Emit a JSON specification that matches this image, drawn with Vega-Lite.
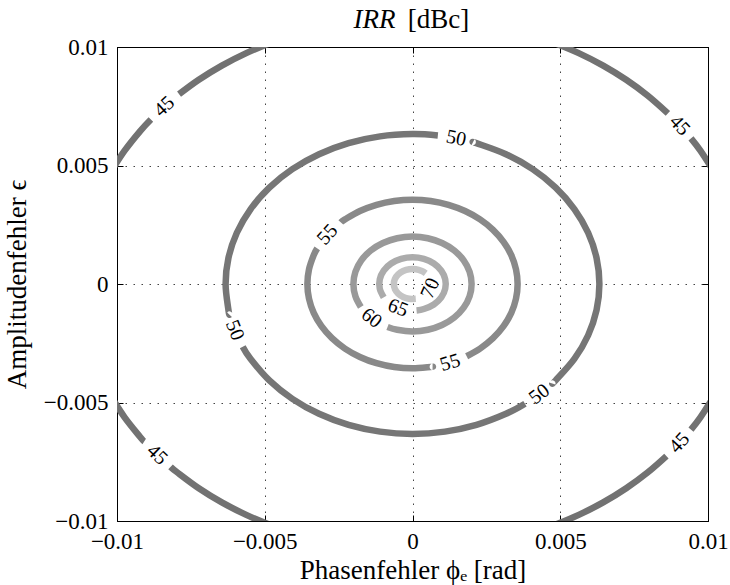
{
  "$schema": "https://vega.github.io/schema/vega-lite/v6.json",
  "width": 591,
  "height": 474,
  "autosize": {"type": "none"},
  "padding": {"left": 117, "top": 47, "right": 22, "bottom": 64},
  "background": "white",
  "config": {
    "font": "Liberation Serif",
    "view": {"stroke": "black", "strokeWidth": 1},
    "axis": {
      "domainColor": "black",
      "tickColor": "black",
      "labelColor": "black",
      "titleColor": "black",
      "labelFont": "Liberation Serif",
      "titleFont": "Liberation Serif",
      "labelFontSize": 23,
      "titleFontSize": 27,
      "titleFontWeight": "normal",
      "gridColor": "#444444",
      "gridDash": [1.5, 6.5],
      "gridOpacity": 1,
      "gridWidth": 1
    }
  },
  "datasets": {
    "contours": [
      {"l":45,"s":"45a","o":0,"x":0.010196,"y":0.004754},
      {"l":45,"s":"45a","o":1,"x":0.009743,"y":0.005625},
      {"l":45,"s":"45a","o":2,"x":0.009424,"y":0.006144},
      {"l":45,"s":"45b","o":0,"x":0.008643,"y":0.007201},
      {"l":45,"s":"45b","o":1,"x":0.007955,"y":0.007955},
      {"l":45,"s":"45b","o":2,"x":0.007232,"y":0.008618},
      {"l":45,"s":"45b","o":3,"x":0.006453,"y":0.009216},
      {"l":45,"s":"45b","o":4,"x":0.005625,"y":0.009743},
      {"l":45,"s":"45b","o":5,"x":0.004754,"y":0.010196},
      {"l":45,"s":"45c","o":0,"x":-0.004754,"y":0.010196},
      {"l":45,"s":"45c","o":1,"x":-0.005625,"y":0.009743},
      {"l":45,"s":"45c","o":2,"x":-0.006453,"y":0.009216},
      {"l":45,"s":"45c","o":3,"x":-0.007232,"y":0.008618},
      {"l":45,"s":"45c","o":4,"x":-0.0079,"y":0.00801},
      {"l":45,"s":"45d","o":0,"x":-0.008853,"y":0.006941},
      {"l":45,"s":"45d","o":1,"x":-0.009216,"y":0.006453},
      {"l":45,"s":"45d","o":2,"x":-0.009743,"y":0.005625},
      {"l":45,"s":"45d","o":3,"x":-0.010196,"y":0.004754},
      {"l":45,"s":"45e","o":0,"x":-0.010196,"y":-0.004754},
      {"l":45,"s":"45e","o":1,"x":-0.009743,"y":-0.005625},
      {"l":45,"s":"45e","o":2,"x":-0.009216,"y":-0.006453},
      {"l":45,"s":"45e","o":3,"x":-0.009079,"y":-0.006644},
      {"l":45,"s":"45f","o":0,"x":-0.008188,"y":-0.007715},
      {"l":45,"s":"45f","o":1,"x":-0.007955,"y":-0.007955},
      {"l":45,"s":"45f","o":2,"x":-0.007232,"y":-0.008618},
      {"l":45,"s":"45f","o":3,"x":-0.006453,"y":-0.009216},
      {"l":45,"s":"45f","o":4,"x":-0.005625,"y":-0.009743},
      {"l":45,"s":"45f","o":5,"x":-0.004754,"y":-0.010196},
      {"l":45,"s":"45g","o":0,"x":0.004754,"y":-0.010196},
      {"l":45,"s":"45g","o":1,"x":0.005625,"y":-0.009743},
      {"l":45,"s":"45g","o":2,"x":0.006453,"y":-0.009216},
      {"l":45,"s":"45g","o":3,"x":0.007232,"y":-0.008618},
      {"l":45,"s":"45g","o":4,"x":0.007955,"y":-0.007955},
      {"l":45,"s":"45g","o":5,"x":0.008593,"y":-0.007262},
      {"l":45,"s":"45h","o":0,"x":0.009424,"y":-0.006144},
      {"l":45,"s":"45h","o":1,"x":0.009743,"y":-0.005625},
      {"l":45,"s":"45h","o":2,"x":0.010196,"y":-0.004754},

      {"l":50,"s":"50a","o":0,"x":0.000858,"y":0.006266},
      {"l":50,"s":"50a","o":1,"x":0,"y":0.006325},
      {"l":50,"s":"50a","o":2,"x":-0.001098,"y":0.006229},
      {"l":50,"s":"50a","o":3,"x":-0.002163,"y":0.005944},
      {"l":50,"s":"50a","o":4,"x":-0.003163,"y":0.005477},
      {"l":50,"s":"50a","o":5,"x":-0.004066,"y":0.004845},
      {"l":50,"s":"50a","o":6,"x":-0.004845,"y":0.004066},
      {"l":50,"s":"50a","o":7,"x":-0.005477,"y":0.003163},
      {"l":50,"s":"50a","o":8,"x":-0.005944,"y":0.002163},
      {"l":50,"s":"50a","o":9,"x":-0.006229,"y":0.001098},
      {"l":50,"s":"50a","o":10,"x":-0.006325,"y":0},
      {"l":50,"s":"50a","o":11,"x":-0.006229,"y":-0.001098},
      {"l":50,"s":"50a","o":12,"x":-0.006191,"y":-0.001293},
      {"l":50,"s":"50b","o":0,"x":-0.005746,"y":-0.002643},
      {"l":50,"s":"50b","o":1,"x":-0.005477,"y":-0.003163},
      {"l":50,"s":"50b","o":2,"x":-0.004845,"y":-0.004066},
      {"l":50,"s":"50b","o":3,"x":-0.004066,"y":-0.004845},
      {"l":50,"s":"50b","o":4,"x":-0.003163,"y":-0.005477},
      {"l":50,"s":"50b","o":5,"x":-0.002163,"y":-0.005944},
      {"l":50,"s":"50b","o":6,"x":-0.001098,"y":-0.006229},
      {"l":50,"s":"50b","o":7,"x":0,"y":-0.006325},
      {"l":50,"s":"50b","o":8,"x":0.001098,"y":-0.006229},
      {"l":50,"s":"50b","o":9,"x":0.002163,"y":-0.005944},
      {"l":50,"s":"50b","o":10,"x":0.003163,"y":-0.005477},
      {"l":50,"s":"50b","o":11,"x":0.003806,"y":-0.005051},
      {"l":50,"s":"50c","o":0,"x":0.00473,"y":-0.004199},
      {"l":50,"s":"50c","o":1,"x":0.004845,"y":-0.004066},
      {"l":50,"s":"50c","o":2,"x":0.005477,"y":-0.003163},
      {"l":50,"s":"50c","o":3,"x":0.005944,"y":-0.002163},
      {"l":50,"s":"50c","o":4,"x":0.006229,"y":-0.001098},
      {"l":50,"s":"50c","o":5,"x":0.006325,"y":0},
      {"l":50,"s":"50c","o":6,"x":0.006229,"y":0.001098},
      {"l":50,"s":"50c","o":7,"x":0.005944,"y":0.002163},
      {"l":50,"s":"50c","o":8,"x":0.005477,"y":0.003163},
      {"l":50,"s":"50c","o":9,"x":0.004845,"y":0.004066},
      {"l":50,"s":"50c","o":10,"x":0.004066,"y":0.004845},
      {"l":50,"s":"50c","o":11,"x":0.003163,"y":0.005477},
      {"l":50,"s":"50c","o":12,"x":0.002163,"y":0.005944},
      {"l":50,"s":"50c","o":13,"x":0.002049,"y":0.005984},

      {"l":55,"s":"55a","o":0,"x":-0.003224,"y":0.001503},
      {"l":55,"s":"55a","o":1,"x":-0.003343,"y":0.001217},
      {"l":55,"s":"55a","o":2,"x":-0.003503,"y":0.000617},
      {"l":55,"s":"55a","o":3,"x":-0.003557,"y":0},
      {"l":55,"s":"55a","o":4,"x":-0.003503,"y":-0.000617},
      {"l":55,"s":"55a","o":5,"x":-0.003343,"y":-0.001217},
      {"l":55,"s":"55a","o":6,"x":-0.00308,"y":-0.001779},
      {"l":55,"s":"55a","o":7,"x":-0.002725,"y":-0.002286},
      {"l":55,"s":"55a","o":8,"x":-0.002286,"y":-0.002725},
      {"l":55,"s":"55a","o":9,"x":-0.001779,"y":-0.00308},
      {"l":55,"s":"55a","o":10,"x":-0.001217,"y":-0.003343},
      {"l":55,"s":"55a","o":11,"x":-0.000617,"y":-0.003503},
      {"l":55,"s":"55a","o":12,"x":0,"y":-0.003557},
      {"l":55,"s":"55a","o":13,"x":0.000617,"y":-0.003503},
      {"l":55,"s":"55a","o":14,"x":0.000679,"y":-0.003492},
      {"l":55,"s":"55b","o":0,"x":0.001832,"y":-0.003049},
      {"l":55,"s":"55b","o":1,"x":0.002286,"y":-0.002725},
      {"l":55,"s":"55b","o":2,"x":0.002725,"y":-0.002286},
      {"l":55,"s":"55b","o":3,"x":0.00308,"y":-0.001779},
      {"l":55,"s":"55b","o":4,"x":0.003343,"y":-0.001217},
      {"l":55,"s":"55b","o":5,"x":0.003503,"y":-0.000617},
      {"l":55,"s":"55b","o":6,"x":0.003557,"y":0},
      {"l":55,"s":"55b","o":7,"x":0.003503,"y":0.000617},
      {"l":55,"s":"55b","o":8,"x":0.003343,"y":0.001217},
      {"l":55,"s":"55b","o":9,"x":0.00308,"y":0.001779},
      {"l":55,"s":"55b","o":10,"x":0.002725,"y":0.002286},
      {"l":55,"s":"55b","o":11,"x":0.002286,"y":0.002725},
      {"l":55,"s":"55b","o":12,"x":0.001779,"y":0.00308},
      {"l":55,"s":"55b","o":13,"x":0.001217,"y":0.003343},
      {"l":55,"s":"55b","o":14,"x":0.000617,"y":0.003503},
      {"l":55,"s":"55b","o":15,"x":0,"y":0.003557},
      {"l":55,"s":"55b","o":16,"x":-0.000617,"y":0.003503},
      {"l":55,"s":"55b","o":17,"x":-0.001217,"y":0.003343},
      {"l":55,"s":"55b","o":18,"x":-0.001779,"y":0.00308},
      {"l":55,"s":"55b","o":19,"x":-0.002286,"y":0.002725},
      {"l":55,"s":"55b","o":20,"x":-0.002426,"y":0.002602},

      {"l":60,"s":"60","o":0,"x":-0.000845,"y":-0.001813},
      {"l":60,"s":"60","o":1,"x":-0.000518,"y":-0.001932},
      {"l":60,"s":"60","o":2,"x":0,"y":-0.002},
      {"l":60,"s":"60","o":3,"x":0.000518,"y":-0.001932},
      {"l":60,"s":"60","o":4,"x":0.001,"y":-0.001732},
      {"l":60,"s":"60","o":5,"x":0.001414,"y":-0.001414},
      {"l":60,"s":"60","o":6,"x":0.001732,"y":-0.001},
      {"l":60,"s":"60","o":7,"x":0.001932,"y":-0.000518},
      {"l":60,"s":"60","o":8,"x":0.002,"y":0},
      {"l":60,"s":"60","o":9,"x":0.001932,"y":0.000518},
      {"l":60,"s":"60","o":10,"x":0.001732,"y":0.001},
      {"l":60,"s":"60","o":11,"x":0.001414,"y":0.001414},
      {"l":60,"s":"60","o":12,"x":0.001,"y":0.001732},
      {"l":60,"s":"60","o":13,"x":0.000518,"y":0.001932},
      {"l":60,"s":"60","o":14,"x":0,"y":0.002},
      {"l":60,"s":"60","o":15,"x":-0.000518,"y":0.001932},
      {"l":60,"s":"60","o":16,"x":-0.001,"y":0.001732},
      {"l":60,"s":"60","o":17,"x":-0.001414,"y":0.001414},
      {"l":60,"s":"60","o":18,"x":-0.001732,"y":0.001},
      {"l":60,"s":"60","o":19,"x":-0.001932,"y":0.000518},
      {"l":60,"s":"60","o":20,"x":-0.002,"y":0},
      {"l":60,"s":"60","o":21,"x":-0.001932,"y":-0.000518},
      {"l":60,"s":"60","o":22,"x":-0.001749,"y":-0.00097},

      {"l":65,"s":"65","o":0,"x":0.000137,"y":-0.001117},
      {"l":65,"s":"65","o":1,"x":0.000385,"y":-0.001057},
      {"l":65,"s":"65","o":2,"x":0.000723,"y":-0.000862},
      {"l":65,"s":"65","o":3,"x":0.000974,"y":-0.000563},
      {"l":65,"s":"65","o":4,"x":0.001108,"y":-0.000195},
      {"l":65,"s":"65","o":5,"x":0.001108,"y":0.000195},
      {"l":65,"s":"65","o":6,"x":0.000974,"y":0.000563},
      {"l":65,"s":"65","o":7,"x":0.000723,"y":0.000862},
      {"l":65,"s":"65","o":8,"x":0.000385,"y":0.001057},
      {"l":65,"s":"65","o":9,"x":0,"y":0.001125},
      {"l":65,"s":"65","o":10,"x":-0.000385,"y":0.001057},
      {"l":65,"s":"65","o":11,"x":-0.000723,"y":0.000862},
      {"l":65,"s":"65","o":12,"x":-0.000974,"y":0.000563},
      {"l":65,"s":"65","o":13,"x":-0.001108,"y":0.000195},
      {"l":65,"s":"65","o":14,"x":-0.001108,"y":-0.000195},
      {"l":65,"s":"65","o":15,"x":-0.000974,"y":-0.000563},

      {"l":70,"s":"70","o":0,"x":0.000447,"y":0.000447},
      {"l":70,"s":"70","o":1,"x":0.000316,"y":0.000547},
      {"l":70,"s":"70","o":2,"x":0.00011,"y":0.000622},
      {"l":70,"s":"70","o":3,"x":-0.00011,"y":0.000622},
      {"l":70,"s":"70","o":4,"x":-0.000316,"y":0.000547},
      {"l":70,"s":"70","o":5,"x":-0.000484,"y":0.000406},
      {"l":70,"s":"70","o":6,"x":-0.000594,"y":0.000216},
      {"l":70,"s":"70","o":7,"x":-0.000632,"y":0},
      {"l":70,"s":"70","o":8,"x":-0.000594,"y":-0.000216},
      {"l":70,"s":"70","o":9,"x":-0.000484,"y":-0.000406},
      {"l":70,"s":"70","o":10,"x":-0.000316,"y":-0.000547},
      {"l":70,"s":"70","o":11,"x":-0.00011,"y":-0.000622},
      {"l":70,"s":"70","o":12,"x":0.00011,"y":-0.000622}
    ],
    "labels": [
      {"l":45,"x":-0.008399,"y":0.007484,"a":-42},
      {"l":45,"x":0.009044,"y":0.006692,"a":47},
      {"l":45,"x":-0.008643,"y":-0.007201,"a":44},
      {"l":45,"x":0.009032,"y":-0.006707,"a":-47},
      {"l":50,"x":0.001476,"y":0.00615,"a":11},
      {"l":50,"x":-0.006016,"y":-0.001954,"a":68},
      {"l":50,"x":0.00429,"y":-0.004648,"a":-37},
      {"l":55,"x":-0.002878,"y":0.002091,"a":-48},
      {"l":55,"x":0.001275,"y":-0.003321,"a":-17},
      {"l":60,"x":-0.001389,"y":-0.001439,"a":38},
      {"l":65,"x":-0.000493,"y":-0.001011,"a":21},
      {"l":70,"x":0.000604,"y":-0.000185,"a":-66}
    ]
  },
  "resolve": {"axis": {"x": "independent", "y": "independent"}},
  "layer": [
    {
      "data": {"name": "contours"},
      "mark": {"type": "line", "strokeWidth": 6.5, "interpolate": "cardinal", "clip": true, "strokeCap": "butt"},
      "encoding": {
        "x": {
          "field": "x", "type": "quantitative",
          "scale": {"domain": [-0.01, 0.01], "nice": false, "zero": false},
          "axis": {"orient": "bottom", "values": [-0.01, -0.005, 0, 0.005, 0.01], "format": ".3~f", "title": "Phasenfehler ϕₑ [rad]", "grid": true, "tickSize": -6, "labelPadding": 15, "titleX": 295.5, "titleY": 57, "titleAlign": "center", "titleBaseline": "alphabetic", "labelFlush": false}
        },
        "y": {
          "field": "y", "type": "quantitative",
          "scale": {"domain": [-0.01, 0.01], "nice": false, "zero": false},
          "axis": {"orient": "left", "values": [-0.01, -0.005, 0, 0.005, 0.01], "format": ".3~f", "title": "Amplitudenfehler ϵ", "grid": true, "tickSize": -6, "labelPadding": 15, "titleX": -92, "titleY": 237, "titleAngle": -90, "titleAlign": "center", "titleBaseline": "alphabetic", "labelFlush": false}
        },
        "detail": {"field": "s", "type": "nominal"},
        "order": {"field": "o", "type": "quantitative"},
        "color": {
          "field": "l", "type": "ordinal",
          "scale": {"domain": [45, 50, 55, 60, 65, 70], "range": ["#727272", "#767676", "#898989", "#999999", "#ababab", "#c4c4c4"]},
          "legend": null
        }
      }
    },
    {
      "data": {"name": "labels"},
      "mark": {"type": "text", "fontSize": 20, "font": "Liberation Serif", "color": "black", "align": "center", "baseline": "middle"},
      "encoding": {
        "x": {
          "field": "x", "type": "quantitative",
          "axis": {"orient": "top", "values": [-0.01, -0.005, 0, 0.005, 0.01], "labels": false, "grid": false, "tickSize": -6, "title": "IRR", "titleFontStyle": "italic", "titleX": 257, "titleY": -20, "titleAlign": "center", "titleBaseline": "alphabetic", "titleAngle": 0}
        },
        "y": {
          "field": "y", "type": "quantitative",
          "axis": {"orient": "right", "values": [-0.01, -0.005, 0, 0.005, 0.01], "labels": false, "grid": false, "tickSize": -6, "title": "[dBc]", "titleX": -270, "titleY": -20, "titleAlign": "center", "titleBaseline": "alphabetic", "titleAngle": 0}
        },
        "text": {"field": "l", "type": "nominal"},
        "angle": {"field": "a", "type": "quantitative", "scale": null}
      }
    }
  ]
}
